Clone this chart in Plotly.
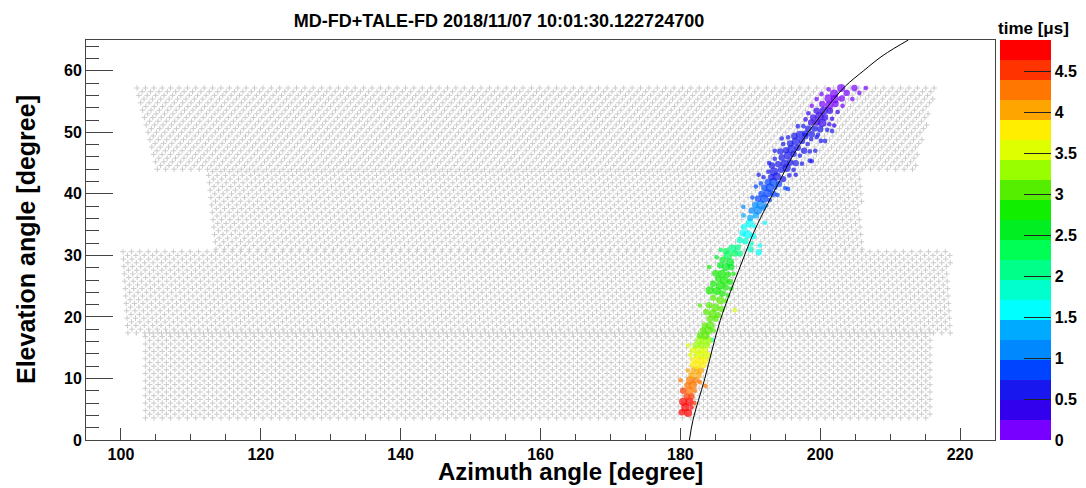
import plotly.graph_objects as go

# ---------------- detector field of view (grey PMT pixels) ----------------
ring_el_lo = [3.6, 17.4, 31.0, 44.0]
ring_el_hi = [17.2, 30.6, 43.6, 57.2]
ring_az_left_lo = [103.5, 101.0, 113.6, 105.2]
ring_az_left_hi = [103.5, 100.3, 112.5, 102.3]
ring_az_right_lo = [215.8, 218.6, 206.0, 213.6]
ring_az_right_hi = [215.8, 218.6, 206.0, 216.6]
pmt_az_step = 1.2
pmt_el_step = 0.6

# ---------------- triggered tubes of the track ----------------
trk_az = [180.2, 181.1, 180.7, 181.6, 180.4, 181.3, 182.0, 180.9, 181.6, 180.4,
          181.3, 182.1, 181.0, 181.8, 183.6, 180.0, 181.4, 182.2, 182.8, 181.6,
          182.6, 181.1, 182.1, 182.9, 181.6, 182.4, 183.3, 181.9, 182.8, 183.6,
          181.4, 182.3, 183.2, 184.0, 181.8, 182.7, 183.5, 181.1, 182.2, 183.0,
          183.8, 184.6, 182.6, 183.4, 184.2, 182.8, 183.6, 183.2, 184.0, 184.8,
          183.5, 184.3, 184.2, 185.0,
          183.7, 184.6, 185.4, 187.8, 182.8, 184.1, 185.0, 185.9, 184.7, 185.7,
          186.5, 184.2, 185.2, 186.0, 186.8, 184.7, 185.7, 186.5, 187.3, 185.4,
          186.3, 187.1, 185.0, 185.9, 186.8, 187.6, 184.1, 185.7, 186.5, 187.3,
          185.2, 186.1, 187.1, 186.8, 187.8, 188.5, 185.8, 186.5, 187.4, 188.2,
          191.2, 188.5, 189.3, 190.2, 188.9, 189.6, 190.4, 189.1, 189.9, 190.6,
          192.1, 191.4, 190.0,
          189.0, 190.0, 190.8, 189.0, 190.2, 191.1, 191.9, 190.7, 191.5, 192.3,
          191.1, 192.0, 192.8, 191.6, 192.5, 193.3, 195.4, 192.0, 192.8, 193.6,
          191.5, 192.5, 193.3, 194.1, 191.9, 193.0, 193.8, 194.7, 192.6, 193.4,
          194.4, 195.2, 196.2, 193.1, 194.0, 194.9, 195.7, 198.8, 193.5, 194.5,
          195.4, 196.2, 197.1, 194.3, 195.1, 195.9, 196.8, 194.7, 195.7, 196.5,
          197.4, 198.2, 195.4, 196.3, 197.1, 197.9, 198.7,
          197.9, 198.8, 199.7, 197.6, 198.3, 199.2, 200.0, 201.0, 198.7, 199.5,
          200.3, 201.3, 197.9, 199.0, 199.9, 200.7, 201.7, 198.3, 199.5, 200.5,
          201.4, 202.5, 198.8, 200.3, 201.3, 202.2, 203.2, 199.5, 201.2, 202.1,
          203.1, 204.6, 200.2, 202.0, 203.8, 205.6, 201.2, 203.0, 204.9, 206.5,
          200.1, 199.3,
          193.5, 197.7, 198.5, 192.7, 196.5, 197.4, 191.2, 195.6, 196.5, 190.8,
          195.0, 194.5, 199.5, 196.8, 202.0, 198.5, 200.7, 201.7, 190.3, 193.9]
trk_el = [4.5, 4.4, 5.3, 5.3, 6.2, 6.2, 6.0, 7.1, 7.1, 8.0,
          8.0, 8.0, 8.9, 8.9, 8.8, 9.7, 9.7, 9.7, 9.4, 10.5,
          10.5, 11.3, 11.3, 11.3, 12.2, 12.2, 12.2, 13.0, 13.0, 13.0,
          13.8, 13.8, 13.8, 13.8, 14.6, 14.6, 14.6, 15.4, 15.4, 15.4,
          15.4, 16.3, 16.2, 16.2, 16.2, 17.0, 17.0, 17.8, 17.8, 17.8,
          18.6, 18.6, 19.7, 19.7,
          20.8, 20.5, 20.3, 21.1, 21.9, 21.9, 21.5, 21.3, 23.1, 22.7,
          22.6, 24.3, 24.2, 23.8, 23.5, 25.4, 25.1, 24.8, 24.6, 26.2,
          25.9, 25.7, 27.1, 27.0, 26.9, 27.0, 28.1, 28.4, 28.1, 28.1,
          29.7, 29.3, 28.9, 30.0, 30.3, 30.3, 30.9, 30.7, 31.1, 31.3,
          30.5, 32.5, 32.3, 31.9, 33.6, 33.4, 33.1, 34.6, 35.2, 34.7,
          35.3, 31.6, 31.0,
          36.5, 36.1, 36.5, 37.9, 37.3, 37.3, 37.6, 38.2, 38.2, 38.1,
          39.2, 39.2, 39.0, 40.0, 40.1, 40.0, 40.8, 41.0, 41.0, 41.0,
          41.7, 41.9, 41.9, 41.6, 42.7, 42.7, 42.8, 42.4, 43.6, 43.6,
          43.9, 44.2, 43.9, 44.6, 44.8, 44.9, 45.1, 45.3, 45.7, 45.9,
          46.2, 46.5, 46.2, 46.9, 47.1, 47.3, 47.5, 48.1, 48.2, 48.5,
          48.6, 48.1, 49.2, 49.4, 49.6, 49.4, 48.9,
          49.8, 49.7, 49.6, 51.0, 50.6, 50.6, 50.5, 50.4, 51.6, 51.6,
          51.5, 51.3, 52.1, 52.4, 52.6, 52.4, 52.2, 53.1, 53.5, 53.5,
          53.5, 53.3, 54.3, 54.6, 54.4, 54.6, 54.3, 55.4, 55.5, 55.4,
          55.5, 55.4, 56.2, 56.3, 56.4, 56.4, 57.0, 57.2, 57.2, 57.2,
          48.6, 47.0,
          47.0, 47.0, 46.9, 45.0, 45.0, 44.9, 43.1, 43.0, 43.1, 41.2,
          40.9, 49.0, 49.2, 51.0, 51.1, 45.4, 48.6, 50.2, 39.4, 39.8]
trk_time = [4.75, 4.78, 4.72, 4.70, 4.66, 4.64, 4.60, 4.52, 4.48, 4.42,
            4.38, 4.36, 4.30, 4.28, 4.30, 4.26, 4.24, 4.22, 4.15, 4.08,
            4.05, 4.00, 3.96, 3.93, 3.86, 3.84, 3.82, 3.76, 3.74, 3.70,
            3.62, 3.60, 3.58, 3.55, 3.52, 3.50, 3.48, 3.42, 3.40, 3.38,
            3.36, 1.60, 3.30, 3.28, 3.26, 3.14, 3.12, 3.08, 3.06, 3.05,
            3.04, 3.03, 3.02, 3.01,
            3.00, 2.99, 2.98, 3.60, 2.97, 2.96, 2.96, 2.95, 2.95, 2.94,
            2.94, 2.92, 2.91, 2.91, 2.90, 2.88, 2.87, 2.86, 2.86, 2.82,
            2.80, 2.80, 2.76, 2.75, 2.74, 2.74, 2.70, 2.66, 2.66, 2.65,
            2.50, 2.52, 2.55, 2.40, 2.35, 2.05, 2.30, 2.25, 2.15, 2.00,
            1.60, 1.85, 1.80, 1.75, 1.68, 1.65, 1.65, 1.60, 1.55, 1.55,
            1.50, 1.60, 1.90,
            1.30, 1.35, 1.30, 1.05, 1.15, 1.12, 1.10, 1.00, 0.99, 1.00,
            0.94, 0.92, 0.92, 0.88, 0.87, 0.86, 0.84, 0.82, 0.81, 0.80,
            0.78, 0.77, 0.76, 0.76, 0.72, 0.71, 0.70, 0.70, 0.69, 0.68,
            0.67, 0.66, 0.66, 0.65, 0.64, 0.64, 0.63, 0.64, 0.62, 0.61,
            0.60, 0.60, 0.60, 0.59, 0.58, 0.58, 0.57, 0.56, 0.56, 0.55,
            0.55, 0.55, 0.54, 0.53, 0.53, 0.53, 0.53,
            0.52, 0.52, 0.51, 0.49, 0.50, 0.50, 0.50, 0.50, 0.45, 0.44,
            0.44, 0.43, 0.42, 0.40, 0.39, 0.39, 0.40, 0.34, 0.32, 0.31,
            0.31, 0.32, 0.24, 0.22, 0.22, 0.21, 0.22, 0.17, 0.16, 0.16,
            0.15, 0.14, 0.11, 0.10, 0.09, 0.08, 0.06, 0.05, 0.04, 0.03,
            0.55, 0.58,
            0.59, 0.58, 0.58, 0.65, 0.64, 0.64, 0.71, 0.70, 0.70, 0.80,
            0.79, 0.54, 0.53, 0.49, 0.48, 0.62, 0.55, 0.50, 0.94, 0.92]
trk_signal = [3, 4, 4, 2, 4, 4, 2, 3, 3, 3,
              4, 2, 3, 4, 2, 2, 4, 3, 2, 3,
              3, 2, 4, 3, 2, 4, 3, 3, 4, 3,
              2, 3, 4, 3, 3, 4, 3, 2, 3, 3,
              3, 2, 3, 4, 3, 3, 4, 3, 4, 2,
              3, 4, 3, 3,
              3, 4, 3, 2, 2, 3, 4, 3, 3, 4,
              2, 4, 4, 3, 2, 3, 4, 3, 2, 3,
              4, 3, 3, 4, 3, 2, 2, 3, 4, 3,
              2, 3, 4, 4, 3, 3, 2, 3, 4, 3,
              3, 3, 3, 2, 3, 4, 3, 3, 4, 2,
              2, 2, 3,
              2, 3, 3, 2, 3, 4, 2, 3, 4, 2,
              3, 4, 2, 3, 4, 3, 2, 3, 4, 2,
              2, 3, 4, 3, 2, 3, 4, 3, 2, 4,
              3, 4, 2, 3, 3, 4, 3, 2, 2, 3,
              4, 3, 2, 3, 3, 4, 3, 2, 3, 4,
              3, 2, 2, 3, 4, 3, 2,
              3, 3, 2, 2, 3, 3, 3, 2, 3, 3,
              4, 2, 2, 3, 4, 3, 2, 2, 3, 4,
              3, 2, 2, 3, 4, 3, 2, 2, 4, 4,
              3, 2, 2, 4, 3, 2, 2, 4, 3, 2,
              2, 2,
              2, 3, 2, 2, 3, 2, 2, 2, 2, 2,
              2, 2, 2, 2, 2, 2, 2, 2, 2, 2]

# ---------------- shower-detector-plane fit curve ----------------
fit_el = [0.0, 3.2, 10.0, 19.4, 28.6, 34.0, 38.4, 43.2, 45.0, 47.5, 50.2, 52.0, 55.2, 57.5, 60.0, 62.5, 65.0]
fit_az = [181.3, 181.8, 183.5, 185.7, 188.7, 190.6, 192.5, 194.7, 195.5, 196.8, 198.4, 199.6, 201.8, 203.6, 206.2, 209.0, 212.6]

# ---------------- colour palette (20 contours) ----------------
palette = ["#7700FF", "#3300EE", "#1818EE", "#0044FF", "#0088FF", "#00AAFF", "#00FFFF",
           "#00FFCC", "#00FF88", "#00FF55", "#00EE22", "#11EE00", "#55EE00", "#99FF00",
           "#DDFF00", "#FFEE00", "#FFA500", "#FF7700", "#FF3300", "#FF0000"]
t_min, t_max = 0.0, 4.878
cbar_ticks = [0, 0.5, 1, 1.5, 2, 2.5, 3, 3.5, 4, 4.5]
cbar_ticktext = ["0", "0.5", "1", "1.5", "2", "2.5", "3", "3.5", "4", "4.5"]

x_ticks = [100, 120, 140, 160, 180, 200, 220]
y_ticks = [0, 10, 20, 30, 40, 50, 60]

title_text = "MD-FD+TALE-FD 2018/11/07 10:01:30.122724700"

# ---- build grey pixel grid inside each ring ----
bg_az, bg_el = [], []
for k in range(len(ring_el_lo)):
    span = ring_el_hi[k] - ring_el_lo[k]
    n_rows = int(round(span / pmt_el_step)) + 1
    for i in range(n_rows):
        el = ring_el_lo[k] + i * pmt_el_step
        f = (el - ring_el_lo[k]) / span
        left = ring_az_left_lo[k] + f * (ring_az_left_hi[k] - ring_az_left_lo[k])
        right = ring_az_right_lo[k] + f * (ring_az_right_hi[k] - ring_az_right_lo[k])
        az = left + (pmt_az_step / 2 if i % 2 else 0.0)
        while az <= right:
            bg_az.append(round(az, 3))
            bg_el.append(round(el, 3))
            az += pmt_az_step

# discrete colourscale
n = len(palette)
cscale = []
for i, c in enumerate(palette):
    cscale.append([i / n, c])
    cscale.append([(i + 1) / n, c])

# marker diameter (px) from signal
trk_size_px = [1.0 + 1.8 * s for s in trk_signal]

FONT = "Liberation Sans, Arial, Helvetica, sans-serif"
# the page body adds an 8 px offset, so the figure is 8 px smaller than the window
OFF = 8
W, H = 1086 - OFF, 488 - OFF
L, R, T, B = 86 - OFF, 91, 40 - OFF, 48
PW = W - L - R
PH = H - T - B


def px_x(page_x):
    return (page_x - OFF - L) / PW


def px_y(page_y):
    return (H - B - (page_y - OFF)) / PH


fig = go.Figure()
fig.add_trace(go.Scatter(
    x=bg_az, y=bg_el, mode="markers", hoverinfo="skip",
    marker=dict(symbol="cross-thin", size=4, color="#cbcbcb",
                line=dict(color="#cbcbcb", width=1)),
    showlegend=False))
fig.add_trace(go.Scatter(
    x=trk_az, y=trk_el, mode="markers",
    marker=dict(size=trk_size_px, sizemode="diameter",
                color=trk_time, colorscale=cscale, cmin=t_min, cmax=t_max,
                line=dict(width=0),
                colorbar=dict(
                    thickness=51, len=1.0, lenmode="fraction", y=0.5, yanchor="middle",
                    x=px_x(1000), xanchor="left", xpad=0, ypad=0,
                    outlinewidth=0, ticks="inside", ticklen=27, tickwidth=1,
                    tickcolor="#222222", tickvals=cbar_ticks, ticktext=cbar_ticktext,
                    tickfont=dict(family=FONT, size=16, color="black", weight="bold"))),
    showlegend=False))
fig.add_trace(go.Scatter(
    x=fit_az, y=fit_el, mode="lines", line=dict(color="black", width=1, shape="spline"),
    hoverinfo="skip", showlegend=False))

axis_common = dict(showgrid=False, zeroline=False, showline=True, linecolor="#444444",
                   linewidth=1, mirror=True, ticks="inside", tickcolor="#444444",
                   tickwidth=1,
                   tickfont=dict(family=FONT, size=16, color="black", weight="bold"))
fig.update_xaxes(range=[95, 225], tickvals=x_ticks, ticklen=12,
                 minor=dict(dtick=5, tick0=0, ticks="inside", ticklen=6, tickcolor="#444444"),
                 **axis_common)
fig.update_yaxes(range=[0, 65], tickvals=y_ticks, ticklen=27,
                 minor=dict(dtick=2, tick0=0, ticks="inside", ticklen=13, tickcolor="#444444"),
                 **axis_common)
fig.update_layout(
    width=W, height=H,
    margin=dict(l=L, r=R, t=T, b=B, pad=0, autoexpand=False),
    paper_bgcolor="white", plot_bgcolor="white",
    title=dict(text=title_text, x=px_x(499), xref="paper", xanchor="center",
               y=1 - (21 - OFF) / H, yref="container", yanchor="middle",
               font=dict(family=FONT, size=18, color="black", weight="bold")),
    annotations=[
        dict(text="Azimuth angle [degree]", xref="paper", yref="paper",
             x=px_x(570), y=px_y(487), xanchor="center", yanchor="bottom",
             showarrow=False,
             font=dict(family=FONT, size=24, color="black", weight="bold")),
        dict(text="Elevation angle [degree]", xref="paper", yref="paper",
             x=px_x(26), y=px_y(240), textangle=-90,
             xanchor="center", yanchor="middle", showarrow=False,
             font=dict(family=FONT, size=25, color="black", weight="bold")),
        dict(text="time [μs]", xref="paper", yref="paper",
             x=px_x(1033), y=px_y(29), xanchor="center", yanchor="middle",
             showarrow=False,
             font=dict(family=FONT, size=17, color="black", weight="bold")),
    ],
)
fig.write_html("out.html")
